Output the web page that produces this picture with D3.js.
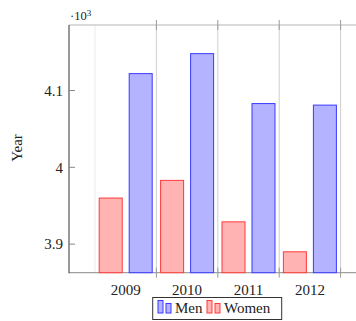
<!DOCTYPE html>
<html>
<head>
<meta charset="utf-8">
<script src="https://cdn.jsdelivr.net/npm/d3@7"></script>
<style>
  body { margin: 0; background: #fff; }
  svg { display: block; font-family: "Liberation Serif", "Times New Roman", serif; }
</style>
</head>
<body>
<svg id="chart"></svg>
<script>
// data (values in units, axis shows them /1000 with a ·10^3 label)
var years = ["2009", "2010", "2011", "2012"];
var seriesNames = ["Women", "Men"];
var menValues = [4122, 4148, 4083, 4081];
var womenValues = [3960, 3983, 3929, 3890];
var yTicks = [3900, 4000, 4100];

var W = 356, H = 321;
var dim = {l: 69, t: 25, b: 272.7};

var colors = {
    Men: {fill: "#b3b3ff", stroke: "#3a3aff"},
    Women: {fill: "#ffb3b3", stroke: "#ff3a3a"}
};

var svg = d3.select("#chart")
    .attr("width", W)
    .attr("height", H);

// x: one band per year, a sub band per series
var x = d3.scaleBand()
    .domain(years)
    .range([95, 340.6])
    .padding(0);

var xSub = d3.scaleBand()
    .domain(seriesNames)
    .range([0, x.bandwidth()])
    .paddingInner(0.233)
    .paddingOuter(0.14);

var y = d3.scaleLinear()
    .domain([3862.8, 4185.3])
    .range([dim.b, dim.t]);

// vertical grid lines at band edges
var edges = years.map(function(d){ return x(d) + x.bandwidth(); });
svg.append("line")
    .attr("x1", x(years[0])).attr("x2", x(years[0]))
    .attr("y1", dim.t).attr("y2", dim.b)
    .attr("stroke", "#ececec").attr("stroke-width", 1);
svg.selectAll(".grid")
    .data(edges)
    .join("line")
    .attr("class", "grid")
    .attr("x1", d => d).attr("x2", d => d)
    .attr("y1", dim.t).attr("y2", dim.b)
    .attr("stroke", "#cfcfcf").attr("stroke-width", 1);

// top and bottom frame
svg.append("line")
    .attr("x1", dim.l).attr("x2", W + 5)
    .attr("y1", dim.t).attr("y2", dim.t)
    .attr("stroke", "#b5b5b5").attr("stroke-width", 1);
svg.append("line")
    .attr("x1", dim.l).attr("x2", W + 5)
    .attr("y1", dim.b).attr("y2", dim.b)
    .attr("stroke", "#8a8a8a").attr("stroke-width", 1);

// tick marks across the top and bottom lines
[dim.t, dim.b].forEach(function(yy){
    svg.selectAll(null)
        .data(edges)
        .join("line")
        .attr("x1", d => d).attr("x2", d => d)
        .attr("y1", yy - 5).attr("y2", yy + 5)
        .attr("stroke", "#9a9a9a").attr("stroke-width", 1);
});

// bars
var groups = svg.selectAll(".year")
    .data(years)
    .join("g")
    .attr("class", "year")
    .attr("transform", d => "translate(" + x(d) + ",0)");

groups.each(function(d, i){
    var g = d3.select(this);
    var vals = {Women: womenValues[i], Men: menValues[i]};
    seriesNames.forEach(function(s){
        g.append("rect")
            .attr("x", xSub(s))
            .attr("y", y(vals[s]))
            .attr("width", xSub.bandwidth())
            .attr("height", dim.b - y(vals[s]))
            .attr("fill", colors[s].fill)
            .attr("stroke", colors[s].stroke)
            .attr("stroke-width", 1);
    });
});

// x labels
svg.selectAll(".xlab")
    .data(years)
    .join("text")
    .attr("class", "xlab")
    .attr("x", d => x(d) + x.bandwidth() / 2)
    .attr("y", 295)
    .attr("text-anchor", "middle")
    .attr("font-size", 15)
    .attr("fill", "#222")
    .text(d => d);

// y axis line + ticks
svg.append("line")
    .attr("x1", dim.l).attr("x2", dim.l)
    .attr("y1", dim.t).attr("y2", dim.b + 0.5)
    .attr("stroke", "#555").attr("stroke-width", 1.2);
svg.selectAll(".ytick")
    .data(yTicks)
    .join("line")
    .attr("class", "ytick")
    .attr("x1", dim.l).attr("x2", dim.l + 6)
    .attr("y1", d => y(d)).attr("y2", d => y(d))
    .attr("stroke", "#888");
svg.selectAll(".ylab")
    .data(yTicks)
    .join("text")
    .attr("class", "ylab")
    .attr("x", 63)
    .attr("y", d => y(d))
    .attr("dy", "0.35em")
    .attr("text-anchor", "end")
    .attr("font-size", 15)
    .attr("fill", "#222")
    .text(d => d3.format("~g")(d / 1000));

// scale label
var sc = svg.append("text")
    .attr("x", 70).attr("y", 20)
    .attr("font-size", 12.5)
    .attr("fill", "#222");
sc.append("tspan").text("\u00b710");
sc.append("tspan").attr("font-size", 9).attr("dy", -4.5).text("3");

// y title
svg.append("text")
    .attr("transform", "translate(22,148) rotate(-90)")
    .attr("text-anchor", "middle")
    .attr("font-size", 15)
    .attr("fill", "#222")
    .text("Year");

// legend
var leg = svg.append("g");
leg.append("rect")
    .attr("x", 152.7).attr("y", 297.5)
    .attr("width", 129).attr("height", 22)
    .attr("fill", "#fff")
    .attr("stroke", "#333").attr("stroke-width", 1);

var legItems = [
    {name: "Men", ix: 158, tx: 175},
    {name: "Women", ix: 207, tx: 224}
];
legItems.forEach(function(it){
    leg.append("rect")
        .attr("x", it.ix).attr("y", 300.5)
        .attr("width", 5).attr("height", 12.5)
        .attr("fill", colors[it.name].fill)
        .attr("stroke", colors[it.name].stroke);
    leg.append("rect")
        .attr("x", it.ix + 8).attr("y", 303.5)
        .attr("width", 5).attr("height", 9.5)
        .attr("fill", colors[it.name].fill)
        .attr("stroke", colors[it.name].stroke);
    leg.append("text")
        .attr("x", it.tx).attr("y", 313)
        .attr("font-size", 15)
        .attr("fill", "#222")
        .text(it.name);
});
</script>
</body>
</html>
